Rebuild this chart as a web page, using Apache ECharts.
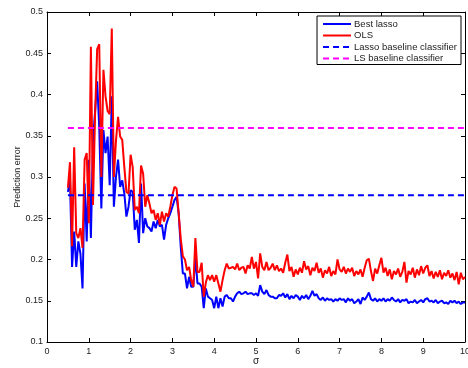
<!DOCTYPE html>
<html>
<head>
<meta charset="utf-8">
<script src="https://cdn.jsdelivr.net/npm/echarts@6/dist/echarts.min.js"></script>
<style>
  html, body { margin: 0; padding: 0; background: #fff; }
  #chart { width: 468px; height: 368px; }
</style>
</head>
<body>
<div id="chart"></div>
<script>
// Noise level sigma: sampled from 0.5 to 10 in steps of 0.05
const sigmaStart = 0.5;
const sigmaStep = 0.05;
const sigmaCount = 191;

// Prediction error of the best lasso model at each sigma
const bestLasso = [
  0.282,0.296,0.191,0.234,0.191,0.222,0.207,0.165,0.292,0.222,
  0.321,0.226,0.345,0.379,0.416,0.360,0.262,0.357,0.329,0.349,
  0.290,0.398,0.264,0.300,0.321,0.288,0.296,0.280,0.252,0.264,
  0.284,0.282,0.236,0.248,0.220,0.292,0.232,0.250,0.240,0.238,
  0.234,0.246,0.238,0.248,0.240,0.242,0.224,0.242,0.250,0.256,
  0.264,0.272,0.276,0.256,0.215,0.183,0.183,0.165,0.179,0.167,
  0.167,0.203,0.171,0.171,0.167,0.141,0.165,0.155,0.153,0.151,
  0.141,0.155,0.141,0.153,0.143,0.155,0.157,0.153,0.153,0.149,
  0.155,0.159,0.161,0.158,0.159,0.161,0.158,0.159,0.159,0.157,
  0.159,0.156,0.169,0.161,0.158,0.163,0.157,0.155,0.155,0.153,
  0.153,0.157,0.156,0.159,0.154,0.158,0.152,0.156,0.153,0.157,
  0.155,0.151,0.156,0.153,0.157,0.152,0.156,0.162,0.156,0.158,
  0.153,0.151,0.154,0.150,0.153,0.151,0.152,0.149,0.152,0.150,
  0.153,0.151,0.152,0.148,0.153,0.150,0.152,0.147,0.149,0.152,
  0.146,0.154,0.151,0.155,0.160,0.152,0.150,0.153,0.149,0.152,
  0.150,0.153,0.149,0.152,0.150,0.154,0.151,0.149,0.152,0.148,
  0.151,0.150,0.152,0.147,0.149,0.148,0.151,0.147,0.149,0.151,
  0.148,0.152,0.153,0.149,0.150,0.148,0.151,0.147,0.149,0.150,
  0.147,0.148,0.146,0.150,0.148,0.150,0.147,0.149,0.146,0.148,
  0.148
];

// Prediction error of ordinary least squares at each sigma
const ols = [
  0.287,0.318,0.216,0.336,0.232,0.226,0.238,0.214,0.321,0.329,
  0.244,0.458,0.266,0.375,0.455,0.461,0.300,0.430,0.398,0.380,
  0.376,0.480,0.300,0.344,0.373,0.349,0.345,0.312,0.282,0.280,
  0.327,0.312,0.260,0.264,0.256,0.314,0.304,0.264,0.278,0.268,
  0.256,0.260,0.248,0.256,0.242,0.258,0.246,0.256,0.252,0.264,
  0.278,0.288,0.286,0.256,0.225,0.204,0.200,0.187,0.191,0.175,
  0.167,0.226,0.185,0.185,0.196,0.155,0.172,0.181,0.175,0.181,
  0.173,0.181,0.171,0.161,0.175,0.187,0.195,0.189,0.190,0.191,
  0.188,0.195,0.187,0.190,0.191,0.183,0.193,0.189,0.203,0.189,
  0.197,0.177,0.2075,0.191,0.187,0.197,0.187,0.190,0.195,0.187,
  0.193,0.186,0.189,0.184,0.196,0.206,0.186,0.191,0.179,0.188,
  0.182,0.190,0.184,0.198,0.188,0.192,0.181,0.190,0.186,0.196,
  0.184,0.189,0.178,0.187,0.183,0.191,0.180,0.186,0.182,0.200,
  0.188,0.185,0.191,0.183,0.189,0.185,0.190,0.180,0.186,0.182,
  0.188,0.179,0.190,0.199,0.201,0.186,0.174,0.189,0.183,0.193,
  0.202,0.184,0.190,0.180,0.188,0.176,0.186,0.182,0.189,0.179,
  0.185,0.197,0.172,0.186,0.182,0.190,0.178,0.188,0.181,0.192,
  0.183,0.190,0.193,0.180,0.186,0.177,0.185,0.179,0.187,0.176,
  0.184,0.180,0.187,0.178,0.183,0.175,0.185,0.170,0.184,0.176,
  0.179
];

// Constant error levels of the two baseline classifiers
const lassoBaseline = 0.278;
const lsBaseline = 0.3595;
const baselineRange = [0.5, 10];

const sigma = [];
for (let i = 0; i < sigmaCount; i++) sigma.push(+(sigmaStart + i * sigmaStep).toFixed(2));

const pairs = (ys) => sigma.map((s, i) => [s, ys[i]]);
const flat = (v) => baselineRange.map((s) => [s, v]);

const FONT = '"Liberation Sans", Arial, Helvetica, sans-serif';
const TXT = '#222';

const chart = echarts.init(document.getElementById('chart'), null, { renderer: 'canvas' });

const boxAxisX = (pos, labels) => ({
  type: 'value', position: pos, min: 0, max: 10, interval: 1,
  axisLine: { show: true, onZero: false, lineStyle: { color: '#000', width: 1 } },
  axisTick: { show: true, inside: true, length: 4, lineStyle: { color: '#000' } },
  axisLabel: { show: labels, color: TXT, fontFamily: FONT, fontSize: 9, margin: 5 },
  splitLine: { show: false }
});
const boxAxisY = (pos, labels) => ({
  type: 'value', position: pos, min: 0.1, max: 0.5, interval: 0.05,
  axisLine: { show: true, onZero: false, lineStyle: { color: '#000', width: 1 } },
  axisTick: { show: true, inside: true, length: 4, lineStyle: { color: '#000' } },
  axisLabel: { show: labels, color: TXT, fontFamily: FONT, fontSize: 9, margin: 4 },
  splitLine: { show: false }
});

const xMain = boxAxisX('bottom', true);
xMain.name = 'σ';
xMain.nameLocation = 'middle';
xMain.nameGap = 14;
xMain.nameMoveOverlap = false;
xMain.nameTextStyle = { color: TXT, fontFamily: FONT, fontSize: 10 };

const yMain = boxAxisY('left', true);
yMain.name = 'Prediction error';
yMain.nameLocation = 'middle';
yMain.nameGap = 25;
yMain.nameMoveOverlap = false;
yMain.nameTextStyle = { color: TXT, fontFamily: FONT, fontSize: 9 };

const lineSeries = (name, data, color, dashed) => ({
  name, type: 'line', data, xAxisIndex: 0, yAxisIndex: 0,
  showSymbol: false, symbol: 'none', animation: false,
  lineStyle: { color, width: 2, type: dashed ? [6, 4] : 'solid' },
  itemStyle: { color }
});

chart.setOption({
  animation: false,
  backgroundColor: '#fff',
  grid: { left: 47, right: 3, top: 12, bottom: 26, containLabel: false, outerBoundsMode: 'none' },
  xAxis: [xMain, boxAxisX('top', false)],
  yAxis: [yMain, boxAxisY('right', false)],
  legend: {
    orient: 'vertical', right: 7, top: 16,
    backgroundColor: '#fff', borderColor: '#000', borderWidth: 1,
    padding: [3, 4, 1, 5], itemGap: 1.5, itemWidth: 28, itemHeight: 10,
    itemStyle: { opacity: 0 },
    textStyle: { color: TXT, fontFamily: FONT, fontSize: 9.5, lineHeight: 10, padding: [0, 0, 0, -2] },
    data: ['Best lasso', 'OLS', 'Lasso baseline classifier', 'LS baseline classifier']
  },
  series: [
    lineSeries('Best lasso', pairs(bestLasso), '#0000ff', false),
    lineSeries('OLS', pairs(ols), '#ff0000', false),
    lineSeries('Lasso baseline classifier', flat(lassoBaseline), '#0000ff', true),
    lineSeries('LS baseline classifier', flat(lsBaseline), '#ff00ff', true)
  ]
});
</script>
</body>
</html>
